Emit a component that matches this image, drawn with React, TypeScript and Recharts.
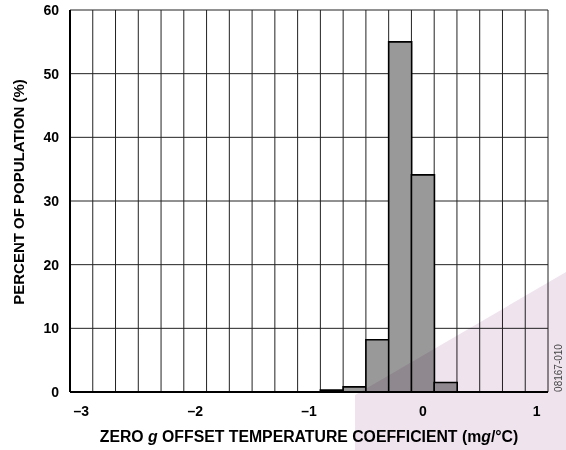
import React from 'react';
import { BarChart, Bar, XAxis, YAxis, CartesianGrid } from 'recharts';

// bin centres (mg/°C), 0.2 wide bins
const binCenters = [
  '-3.0', '-2.8', '-2.6', '-2.4', '-2.2', '-2.0', '-1.8', '-1.6', '-1.4', '-1.2', '-1.0',
  '-0.8', '-0.6', '-0.4', '-0.2', '0.0', '0.2', '0.4', '0.6', '0.8', '1.0',
];
const percentOfPopulation = [
  0, 0, 0, 0, 0, 0, 0, 0, 0, 0, 0,
  0.3, 0.8, 8.2, 55, 34.1, 1.5, 0, 0, 0, 0,
];
const yTicks = [0, 10, 20, 30, 40, 50, 60];

const data = binCenters.map((x, i) => ({ x, pct: percentOfPopulation[i] }));

const FONT = 'Arial, "Liberation Sans", Helvetica, sans-serif';

const fmtX = (v: string) => {
  const n = Number(v);
  return n < 0 ? `\u2013${Math.abs(n)}` : `${n}`;
};

const YTitle = ({ viewBox }: any) => {
  const cx = viewBox.x + 8;
  const cy = 192;
  return (
    <text x={cx} y={cy} transform={`rotate(-90 ${cx} ${cy})`} textAnchor="middle"
      dominantBaseline="central" fontFamily={FONT} fontWeight="bold" fontSize={15} fill="#000">
      PERCENT OF POPULATION (%)
    </text>
  );
};

const XTitle = ({ viewBox }: any) => {
  const cx = viewBox.x + viewBox.width / 2;
  return (
    <text x={cx} y={442} textAnchor="middle" fontFamily={FONT} fontWeight="bold" fontSize={15.8} fill="#000">
      ZERO <tspan fontStyle="italic">g</tspan> OFFSET TEMPERATURE COEFFICIENT (m<tspan fontStyle="italic">g</tspan>/°C)
    </text>
  );
};

export default function App() {
  return (
    <div style={{ position: 'absolute', left: 0, top: 0, width: 566, height: 450, background: '#fff' }}>
      <BarChart width={566} height={450} data={data} barCategoryGap={0}
        margin={{ top: 10, right: 18, bottom: 28, left: 10 }}>
        <CartesianGrid stroke="#222" strokeWidth={1}
          verticalCoordinatesGenerator={({ offset }: any) =>
            binCenters.map((_, i) => offset.left + (i * offset.width) / binCenters.length).concat(offset.left + offset.width)} />
        <XAxis dataKey="x" type="category" interval={4} tickFormatter={fmtX} height={30}
          tickLine={false} tickSize={0} tickMargin={14}
          axisLine={{ stroke: '#000', strokeWidth: 2 }}
          tick={{ fill: '#000', fontFamily: FONT, fontWeight: 'bold', fontSize: 14 }}
          label={<XTitle />} />
        <XAxis xAxisId="top" dataKey="x" orientation="top" height={0} tick={false} tickLine={false}
          axisLine={{ stroke: '#000', strokeWidth: 2 }} />
        <YAxis domain={[0, 60]} ticks={yTicks} width={60} tickLine={false} tickSize={0} tickMargin={11}
          axisLine={{ stroke: '#000', strokeWidth: 2 }}
          tick={{ fill: '#000', fontFamily: FONT, fontWeight: 'bold', fontSize: 14 }}
          label={<YTitle />} />
        <YAxis yAxisId="right" orientation="right" domain={[0, 60]} width={0} tick={false} tickLine={false}
          axisLine={{ stroke: '#000', strokeWidth: 2 }} />
        <Bar dataKey="pct" fill="#999999" stroke="#000" strokeWidth={1.6} isAnimationActive={false} />
      </BarChart>
      <svg width={566} height={450} style={{ position: 'absolute', left: 0, top: 0, pointerEvents: 'none', mixBlendMode: 'multiply' }}>
        <polygon points="355,395 566,272 566,450 355,450" fill="#efe4ee" />
      </svg>
      <div style={{ position: 'absolute', left: 558, top: 368, transform: 'translate(-50%, -50%) rotate(-90deg)',
        fontFamily: FONT, fontSize: 10, color: '#444', whiteSpace: 'nowrap' }}>
        08167-010
      </div>
    </div>
  );
}
